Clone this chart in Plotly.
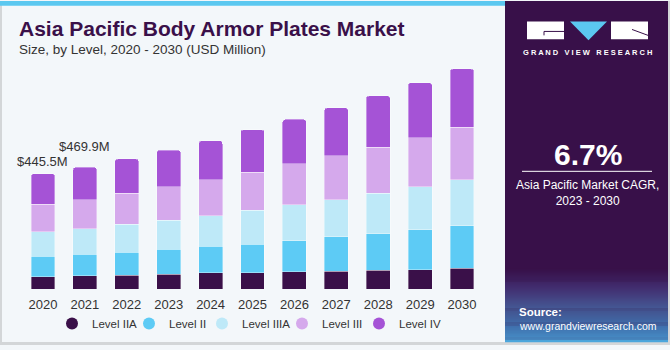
import plotly.graph_objects as go

# ---------------- data ----------------
years = ["2020", "2021", "2022", "2023", "2024", "2025", "2026", "2027", "2028", "2029", "2030"]
level_iia = [48.1, 50.5, 53.1, 56.9, 62.0, 63.3, 67.0, 68.3, 73.4, 74.6, 79.7]
level_ii = [78.5, 83.4, 88.6, 96.1, 102.5, 110.1, 120.2, 134.1, 140.4, 154.3, 164.5]
level_iiia = [93.7, 98.5, 107.5, 112.6, 118.9, 130.3, 137.9, 142.9, 156.9, 167.0, 178.4]
level_iii = [107.6, 112.4, 120.2, 129.0, 137.9, 148.0, 158.1, 169.5, 177.1, 188.5, 202.4]
level_iv = [117.6, 125.1, 132.8, 141.7, 151.8, 163.2, 172.0, 184.7, 198.6, 212.5, 225.2]
series_names = ["Level IIA", "Level II", "Level IIIA", "Level III", "Level IV"]
labelled_years = ["2020", "2021"]
cagr_text = "6.7%"

# ---------------- style ----------------
colors = ["#3A1049", "#5DCBF5", "#BEE9F8", "#D5A9EC", "#A553D6"]
BG = "#F3F7FA"
PANEL = "#381049"
FONT = "Liberation Sans, Arial, Helvetica, sans-serif"
W, H = 670, 350
L, R, T, B = 22, 187, 56, 57
PW, PH = W - L - R, H - T - B
legend_px = [52, 129, 202, 282, 359]


def px(x):
    return (x - L) / PW


def py(y):
    return (H - B - y) / PH


fig = go.Figure()
all_series = [level_iia, level_ii, level_iiia, level_iii, level_iv]
for name, vals, col in zip(series_names, all_series, colors):
    fig.add_trace(go.Bar(
        x=years, y=vals, name=name, marker_color=col,
        marker_line=dict(color="rgba(255,255,255,0.45)", width=0.8),
        showlegend=False, hoverinfo="skip"))
legend_ids = ["legend", "legend2", "legend3", "legend4", "legend5"]
for name, col, lid in zip(series_names, colors, legend_ids):
    fig.add_trace(go.Scatter(
        x=[None], y=[None], mode="markers", name=name, legend=lid,
        marker=dict(symbol="circle", size=12, color=col)))

totals = [sum(v) for v in zip(*all_series)]
shifts = {"2020": 12, "2021": 21}
annotations = []
for yr in labelled_years:
    i = years.index(yr)
    annotations.append(dict(
        x=i, y=totals[i], xref="x", yref="y", text=f"${totals[i]:.1f}M",
        showarrow=False, xanchor="center", yanchor="middle", yshift=shifts[yr],
        font=dict(family=FONT, size=13, color="#333333")))

# titles
annotations.append(dict(x=px(17), y=py(28), xref="paper", yref="paper", xanchor="left",
                        yanchor="middle", showarrow=False,
                        text="<b>Asia Pacific Body Armor Plates Market</b>",
                        font=dict(family=FONT, size=21, color="#3A1049")))
annotations.append(dict(x=px(17), y=py(49.5), xref="paper", yref="paper", xanchor="left",
                        yanchor="middle", showarrow=False,
                        text="Size, by Level, 2020 - 2030 (USD Million)",
                        font=dict(family=FONT, size=13.5, color="#333333")))
# right panel text
annotations.append(dict(x=px(587.5), y=py(156), xref="paper", yref="paper", xanchor="center",
                        yanchor="middle", showarrow=False, text=f"<b>{cagr_text}</b>",
                        font=dict(family=FONT, size=30, color="white")))
annotations.append(dict(x=px(587.5), y=py(195), xref="paper", yref="paper", xanchor="center",
                        yanchor="middle", showarrow=False,
                        text="Asia Pacific Market CAGR,<br>2023 - 2030",
                        font=dict(family=FONT, size=12, color="white")))
annotations.append(dict(x=px(587.5), y=py(52), xref="paper", yref="paper", xanchor="center",
                        yanchor="middle", showarrow=False,
                        text="<b>G R A N D   V I E W   R E S E A R C H</b>",
                        font=dict(family=FONT, size=7.5, color="white")))
annotations.append(dict(x=px(517), y=py(316), xref="paper", yref="paper", xanchor="left",
                        yanchor="middle", showarrow=False, text="<b>Source:</b>",
                        font=dict(family=FONT, size=11.5, color="white")))
annotations.append(dict(x=px(517), y=py(331), xref="paper", yref="paper", xanchor="left",
                        yanchor="middle", showarrow=False, text="www.grandviewresearch.com",
                        font=dict(family=FONT, size=10.5, color="white")))

shapes = []


def rect(x0, y0, x1, y1, color, layer="below"):
    shapes.append(dict(type="rect", xref="paper", yref="paper", x0=px(x0), x1=px(x1),
                       y0=py(y1), y1=py(y0), fillcolor=color, line=dict(width=0), layer=layer))


# border + top stripe
rect(0, 0, W, H, "#D3D6D8")
rect(2, 0, W - 2, H - 3, BG)
rect(0, 0, 505, 5, "#5BC8F0")
# right panel with bottom gradient
rect(505, 0, 668, 347, PANEL)
stops = [(272, (56, 16, 73)), (292, (66, 46, 112)), (312, (70, 88, 148)),
         (332, (66, 128, 190)), (347, (76, 168, 222))]
for k in range(len(stops) - 1):
    (ya, ca), (yb, cb) = stops[k], stops[k + 1]
    n = int(yb - ya)
    for j in range(n):
        t = (j + 0.5) / n
        c = tuple(int(ca[m] + (cb[m] - ca[m]) * t) for m in range(3))
        rect(505, ya + j, 668, ya + j + 1.2, "rgb(%d,%d,%d)" % c)
# logo
rect(527, 21, 564, 39, "white", "above")
rect(611, 21, 648, 39, "white", "above")
shapes.append(dict(type="path", xref="paper", yref="paper",
                   path="M %f,%f L %f,%f L %f,%f Z" % (px(570), py(21), px(607), py(21), px(588.5), py(40)),
                   fillcolor="#5BC8F0", line=dict(width=0), layer="above"))
shapes.append(dict(type="line", xref="paper", yref="paper", x0=px(544), x1=px(564), y0=py(31), y1=py(31),
                   line=dict(color=PANEL, width=1), layer="above"))
shapes.append(dict(type="line", xref="paper", yref="paper", x0=px(544), x1=px(544), y0=py(31), y1=py(35),
                   line=dict(color=PANEL, width=1), layer="above"))
shapes.append(dict(type="line", xref="paper", yref="paper", x0=px(632), x1=px(648), y0=py(29), y1=py(35),
                   line=dict(color=PANEL, width=1), layer="above"))
# divider line
shapes.append(dict(type="line", xref="paper", yref="paper", x0=px(522), x1=px(652), y0=py(173.3), y1=py(173.3),
                   line=dict(color="white", width=1), layer="above"))

legend_common = dict(orientation="h", xanchor="left", y=py(328), yanchor="middle",
                     font=dict(family=FONT, size=11.5, color="#333333"), bgcolor="rgba(0,0,0,0)",
                     itemclick=False, itemdoubleclick=False)
legends = {lid: dict(legend_common, x=px(xp)) for lid, xp in zip(legend_ids, legend_px)}

fig.update_layout(
    width=W, height=H, autosize=False,
    margin=dict(l=L, r=R, t=T, b=B, pad=0),
    paper_bgcolor=BG, plot_bgcolor="rgba(0,0,0,0)",
    barmode="stack", bargap=0.43, barcornerradius=3,
    font=dict(family=FONT, color="#333333"),
    xaxis=dict(type="category", range=[-0.5, 10.5], showgrid=False, showline=False,
               zeroline=False, ticks="outside", ticklen=3, tickcolor="rgba(0,0,0,0)",
               automargin=False,
               tickfont=dict(family=FONT, size=13, color="#333333")),
    yaxis=dict(range=[0, 900], visible=False, showgrid=False, zeroline=False, automargin=False),
    annotations=annotations, shapes=shapes,
    **legends,
)

fig.write_html("out.html")
